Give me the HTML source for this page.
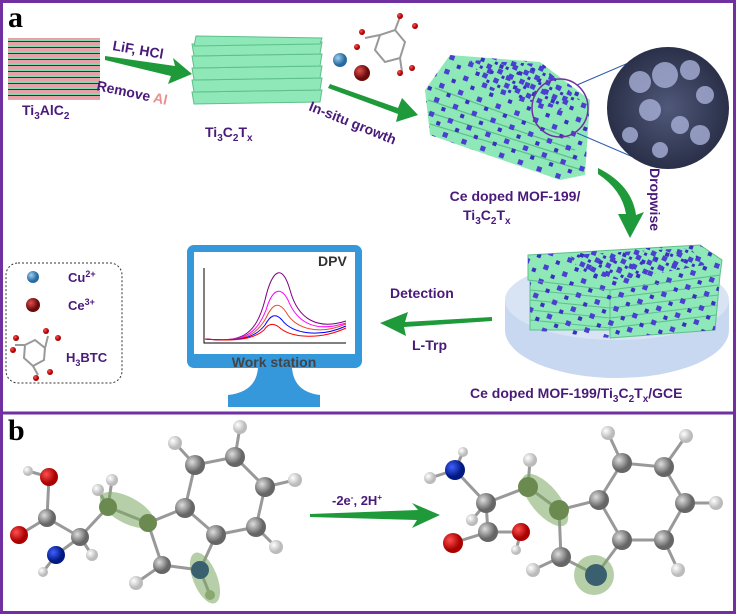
<!DOCTYPE html>
<html><head><meta charset="utf-8"><style>
html,body{margin:0;padding:0;background:#fff}
svg{display:block}
text{font-family:"Liberation Sans",sans-serif;font-weight:bold}
</style></head><body>
<svg width="736" height="614" viewBox="0 0 736 614" xmlns="http://www.w3.org/2000/svg">
<defs>
<pattern id="mof" width="20" height="15" patternUnits="userSpaceOnUse" patternTransform="rotate(20)">
<rect x="2" y="2" width="5" height="5" fill="#4a3fd0"/><rect x="12" y="9" width="4" height="4" fill="#3a30c0"/>
</pattern>
<pattern id="mofd" width="12" height="10" patternUnits="userSpaceOnUse" patternTransform="rotate(25)">
<rect x="1" y="1" width="5" height="5" fill="#4a3fd0"/><rect x="7" y="6" width="3" height="3" fill="#3a30c0"/>
</pattern>
<pattern id="stripe" width="10" height="6" patternUnits="userSpaceOnUse">
<rect width="10" height="3" fill="#e8a0a8"/><rect y="3" width="10" height="2" fill="#7fdcae"/><rect y="5" width="10" height="1" fill="#333"/>
</pattern>
<radialGradient id="gC" cx="35%" cy="35%"><stop offset="0" stop-color="#ddd"/><stop offset="1" stop-color="#666"/></radialGradient>
<radialGradient id="gH" cx="35%" cy="35%"><stop offset="0" stop-color="#fff"/><stop offset="1" stop-color="#bbb"/></radialGradient>
<radialGradient id="gO" cx="35%" cy="35%"><stop offset="0" stop-color="#ff5050"/><stop offset="1" stop-color="#a00"/></radialGradient>
<radialGradient id="gN" cx="35%" cy="35%"><stop offset="0" stop-color="#4060ff"/><stop offset="1" stop-color="#001880"/></radialGradient>
<radialGradient id="gCu" cx="35%" cy="35%"><stop offset="0" stop-color="#9cd0f0"/><stop offset="1" stop-color="#2a6aa0"/></radialGradient>
<radialGradient id="gCe" cx="35%" cy="35%"><stop offset="0" stop-color="#e05050"/><stop offset="1" stop-color="#6a0a0a"/></radialGradient>
<radialGradient id="sem" cx="50%" cy="50%"><stop offset="0" stop-color="#50587a"/><stop offset="1" stop-color="#2a3048"/></radialGradient>
</defs>
<rect x="1.5" y="1.5" width="733" height="611" fill="none" stroke="#7030a0" stroke-width="3"/>
<line x1="0" y1="413" x2="736" y2="413" stroke="#7030a0" stroke-width="3"/>
<text x="8" y="27" font-size="30" fill="#000" style="font-family:'Liberation Serif',serif">a</text>
<text x="8" y="440" font-size="30" fill="#000" style="font-family:'Liberation Serif',serif">b</text>

<rect x="8" y="38" width="92" height="62" fill="url(#stripe)"/>
<text x="22" y="115" font-size="14" fill="#4a1a7a">Ti<tspan font-size="10" dy="4">3</tspan><tspan dy="-4">AlC</tspan><tspan font-size="10" dy="4">2</tspan></text>
<polygon points="105,56 175,66 173,58 192,74 168,84 171,76 105,60" fill="#1e9a3a"/>
<text x="112" y="50" font-size="14" fill="#4a1a7a" transform="rotate(10 112 50)">LiF, HCl</text>
<text x="96" y="90" font-size="14" fill="#4a1a7a" transform="rotate(12 96 90)">Remove <tspan fill="#e89090">Al</tspan></text>

<g fill="#8ee8b8" stroke="#5fbf8a" stroke-width="1">
<path d="M192,92 L322,90 L320,102 L194,104 Z"/>
<path d="M192,80 L322,78 L320,90 L194,92 Z"/>
<path d="M192,68 L322,66 L320,78 L194,80 Z"/>
<path d="M192,56 L322,54 L320,66 L194,68 Z"/>
<path d="M192,44 L322,42 L320,54 L194,56 Z"/>
<path d="M196,36 L322,38 L320,44 L194,46 Z"/>
</g>
<text x="205" y="137" font-size="14" fill="#4a1a7a">Ti<tspan font-size="10" dy="4">3</tspan><tspan dy="-4">C</tspan><tspan font-size="10" dy="4">2</tspan><tspan dy="-4">T</tspan><tspan font-size="10" dy="4">x</tspan></text>

<g stroke="#999" stroke-width="2" fill="none">
<polygon points="380,35 395,30 405,42 400,58 385,62 375,50"/>
<line x1="380" y1="35" x2="365" y2="38"/><line x1="395" y1="30" x2="400" y2="17"/><line x1="400" y1="58" x2="402" y2="72"/>
</g>
<circle cx="400" cy="16" r="3" fill="url(#gO)"/><circle cx="415" cy="26" r="3" fill="url(#gO)"/>
<circle cx="362" cy="32" r="3" fill="url(#gO)"/><circle cx="357" cy="47" r="3" fill="url(#gO)"/>
<circle cx="400" cy="73" r="3" fill="url(#gO)"/><circle cx="412" cy="68" r="3" fill="url(#gO)"/>
<circle cx="340" cy="60" r="7" fill="url(#gCu)"/>
<circle cx="362" cy="73" r="8" fill="url(#gCe)"/>
<polygon points="330,84 398,108 402,98 418,115 396,122 398,114 328,88" fill="#1e9a3a"/>
<text x="308" y="110" font-size="14" fill="#4a1a7a" transform="rotate(22 308 110)">In-situ growth</text>

<g>
<path d="M450,55 L540,62 L590,100 L585,175 L560,180 L430,135 L425,90 Z" fill="#8ee8b8"/>
<g stroke="#5fbf8a" stroke-width="1.2" fill="none">
<path d="M428,100 L575,150"/><path d="M428,112 L578,160"/><path d="M430,124 L582,170"/><path d="M435,88 L570,138"/>
</g>
<path d="M450,55 L540,62 L590,100 L585,175 L560,180 L430,135 L425,90 Z" fill="url(#mof)"/>
<path d="M470,60 L540,64 L580,100 L560,110 L490,90 Z" fill="url(#mofd)"/>
</g>
<ellipse cx="560" cy="108" rx="28" ry="29" fill="none" stroke="#7030a0" stroke-width="1.5"/>
<line x1="577" y1="85" x2="640" y2="58" stroke="#2a5ab0" stroke-width="1"/>
<line x1="577" y1="133" x2="640" y2="160" stroke="#2a5ab0" stroke-width="1"/>
<circle cx="668" cy="108" r="61" fill="url(#sem)"/>
<g fill="#a8b0d8" opacity="0.8">
<circle cx="640" cy="82" r="11"/><circle cx="665" cy="75" r="13"/><circle cx="690" cy="70" r="10"/><circle cx="705" cy="95" r="9"/>
<circle cx="650" cy="110" r="11"/><circle cx="680" cy="125" r="9"/><circle cx="700" cy="135" r="10"/><circle cx="630" cy="135" r="8"/><circle cx="660" cy="150" r="8"/>
</g>
<text x="515" y="201" font-size="14" fill="#4a1a7a" text-anchor="middle">Ce doped MOF-199/</text>
<text x="463" y="220" font-size="14" fill="#4a1a7a">Ti<tspan font-size="10" dy="4">3</tspan><tspan dy="-4">C</tspan><tspan font-size="10" dy="4">2</tspan><tspan dy="-4">T</tspan><tspan font-size="10" dy="4">x</tspan></text>

<path d="M598,168 Q632,185 636,215 L644,212 L630,238 L618,214 L626,214 Q622,190 598,174 Z" fill="#1e9a3a"/>
<text x="650" y="168" font-size="14" fill="#4a1a7a" transform="rotate(90 650 168)">Dropwise</text>

<path d="M505,300 L505,330 A112,48 0 0 0 729,330 L729,300 Z" fill="#c8d8f0"/>
<ellipse cx="617" cy="300" rx="112" ry="40" fill="#d8e4f4"/>
<ellipse cx="612" cy="300" rx="80" ry="25" fill="#777"/>
<g stroke="#5fbf8a" stroke-width="1">
<rect x="530" y="280" width="80" height="50" fill="#8ee8b8"/>
<path d="M610,290 L720,275 L715,330 L610,338 Z" fill="#8ee8b8"/>
</g>
<g stroke="#5fbf8a" stroke-width="1" fill="none">
<path d="M530,290 L610,298 L718,285"/><path d="M530,300 L610,308 L718,295"/><path d="M530,310 L610,318 L717,305"/><path d="M530,320 L610,328 L716,315"/>
</g>
<path d="M530,280 L610,290 L720,275 L715,330 L610,338 L530,330Z" fill="url(#mof)"/>
<path d="M528,255 L700,245 L722,260 L720,275 L610,290 L528,280 Z" fill="#8ee8b8" stroke="#5fbf8a"/>
<path d="M528,255 L700,245 L722,260 L720,275 L610,290 L528,280 Z" fill="url(#mof)"/>
<path d="M570,255 L690,248 L705,265 L620,280 L580,272 Z" fill="url(#mofd)"/>
<text x="470" y="398" font-size="14" fill="#4a1a7a">Ce doped MOF-199/Ti<tspan font-size="10" dy="4">3</tspan><tspan dy="-4">C</tspan><tspan font-size="10" dy="4">2</tspan><tspan dy="-4">T</tspan><tspan font-size="10" dy="4">x</tspan><tspan dy="-4">/GCE</tspan></text>

<text x="390" y="298" font-size="14" fill="#4a1a7a">Detection</text>
<text x="412" y="350" font-size="14" fill="#4a1a7a">L-Trp</text>
<polygon points="492,317 405,322 408,312 380,323 406,336 404,327 492,321" fill="#1e9a3a"/>

<rect x="187" y="245" width="175" height="123" rx="7" fill="#3498db"/>
<rect x="194" y="252" width="161" height="102" fill="#fff"/>
<path d="M258,368 L292,368 Q294,392 320,395 L320,407 L228,407 L228,395 Q256,392 258,368 Z" fill="#3498db"/>
<text x="274" y="367" font-size="14" fill="#444" text-anchor="middle">Work station</text>
<text x="318" y="266" font-size="14" fill="#333">DPV</text>
<polyline points="204,268 204,343 346,343" fill="none" stroke="#000" stroke-width="1"/>
<g fill="none" stroke-width="1">
<path d="M205,339 C240,342 255,338 265,300 C272,270 282,262 290,290 C298,320 318,330 346,321" stroke="#800080"/>
<path d="M205,339 C240,342 255,338 266,310 C272,290 280,285 288,300 C298,325 318,332 346,323" stroke="#ff00ff"/>
<path d="M205,339 C240,342 255,338 266,318 C272,305 278,300 286,312 C296,330 320,335 346,324" stroke="#e05030"/>
<path d="M205,339 C240,342 255,338 265,325 C270,316 275,312 282,320 C292,334 320,338 346,326" stroke="#0000ff"/>
<path d="M205,339 C240,342 255,338 264,330 C268,324 273,322 280,328 C292,338 320,340 346,328" stroke="#ff0000"/>
</g>

<rect x="6" y="263" width="116" height="120" rx="12" fill="none" stroke="#333" stroke-width="1" stroke-dasharray="2,2"/>
<circle cx="33" cy="277" r="6" fill="url(#gCu)"/>
<text x="68" y="282" font-size="13" fill="#4a1a7a">Cu<tspan font-size="9" dy="-5">2+</tspan></text>
<circle cx="33" cy="305" r="7" fill="url(#gCe)"/>
<text x="68" y="310" font-size="13" fill="#4a1a7a">Ce<tspan font-size="9" dy="-5">3+</tspan></text>
<g stroke="#999" stroke-width="2" fill="none">
<polygon points="25,345 35,340 45,348 44,360 33,366 24,358"/>
<line x1="25" y1="345" x2="15" y2="345"/><line x1="45" y1="348" x2="48" y2="336"/><line x1="33" y1="366" x2="38" y2="375"/>
</g>
<circle cx="13" cy="350" r="3" fill="url(#gO)"/><circle cx="16" cy="338" r="3" fill="url(#gO)"/>
<circle cx="46" cy="331" r="3" fill="url(#gO)"/><circle cx="58" cy="338" r="3" fill="url(#gO)"/>
<circle cx="36" cy="378" r="3" fill="url(#gO)"/><circle cx="50" cy="372" r="3" fill="url(#gO)"/>
<text x="66" y="362" font-size="13" fill="#4a1a7a">H<tspan font-size="9" dy="4">3</tspan><tspan dy="-4">BTC</tspan></text>

<polygon points="310,514 418,510 412,503 440,515 412,528 417,520 310,517" fill="#1e9a3a"/>
<text x="332" y="505" font-size="13" fill="#4a1a7a">-2e<tspan font-size="8" dy="-5">-</tspan><tspan dy="5">,  2H</tspan><tspan font-size="8" dy="-5">+</tspan></text>

<g stroke="#999" stroke-width="3" fill="none">
<path d="M49,477 L47,518 L19,535 M47,518 L80,537 L56,555 M80,537 L108,507 L148,523 L185,508 L195,465 L235,457 L265,487 L256,527 L216,535 L200,570 L162,565 L148,523 M185,508 L216,535 M200,570 L210,595 M49,477 L28,471 M56,555 L43,572 M80,537 L92,555 M108,507 L98,490 M108,507 L112,480 M195,465 L175,443 M235,457 L240,427 M265,487 L295,480 M256,527 L276,547 M162,565 L136,583"/>
</g>
<ellipse cx="127" cy="510" rx="30" ry="13" transform="rotate(28 127 510)" fill="#7aa860" opacity="0.55"/>
<ellipse cx="205" cy="578" rx="27" ry="12" transform="rotate(68 205 578)" fill="#7aa860" opacity="0.55"/>
<g>
<circle cx="28" cy="471" r="5" fill="url(#gH)"/><circle cx="43" cy="572" r="5" fill="url(#gH)"/><circle cx="92" cy="555" r="6" fill="url(#gH)"/>
<circle cx="98" cy="490" r="6" fill="url(#gH)"/><circle cx="112" cy="480" r="6" fill="url(#gH)"/><circle cx="175" cy="443" r="7" fill="url(#gH)"/>
<circle cx="240" cy="427" r="7" fill="url(#gH)"/><circle cx="295" cy="480" r="7" fill="url(#gH)"/><circle cx="276" cy="547" r="7" fill="url(#gH)"/>
<circle cx="136" cy="583" r="7" fill="url(#gH)"/>
<circle cx="49" cy="477" r="9" fill="url(#gO)"/><circle cx="19" cy="535" r="9" fill="url(#gO)"/>
<circle cx="47" cy="518" r="9" fill="url(#gC)"/><circle cx="56" cy="555" r="9" fill="url(#gN)"/>
<circle cx="80" cy="537" r="9" fill="url(#gC)"/><circle cx="108" cy="507" r="9" fill="#6a8a50"/>
<circle cx="148" cy="523" r="9" fill="#6a8a50"/><circle cx="185" cy="508" r="10" fill="url(#gC)"/>
<circle cx="195" cy="465" r="10" fill="url(#gC)"/><circle cx="235" cy="457" r="10" fill="url(#gC)"/>
<circle cx="265" cy="487" r="10" fill="url(#gC)"/><circle cx="256" cy="527" r="10" fill="url(#gC)"/>
<circle cx="216" cy="535" r="10" fill="url(#gC)"/><circle cx="200" cy="570" r="9" fill="#3a6070"/>
<circle cx="162" cy="565" r="9" fill="url(#gC)"/><circle cx="210" cy="595" r="5" fill="#8aa870"/>
</g>

<g stroke="#999" stroke-width="3" fill="none">
<path d="M455,470 L486,503 L488,532 L453,543 M488,532 L521,532 M486,503 L528,487 L559,510 L599,500 L622,463 L664,467 L685,503 L664,540 L622,540 L599,500 M622,540 L596,575 L561,557 L559,510 M455,470 L430,478 M455,470 L463,452 M528,487 L530,460 M622,463 L608,433 M664,467 L686,436 M685,503 L716,503 M664,540 L678,570 M561,557 L533,570 M521,532 L516,550 M486,503 L472,520"/>
</g>
<ellipse cx="545" cy="500" rx="32" ry="14" transform="rotate(50 545 500)" fill="#7aa860" opacity="0.55"/>
<circle cx="594" cy="575" r="20" fill="#7aa860" opacity="0.55"/>
<g>
<circle cx="430" cy="478" r="6" fill="url(#gH)"/><circle cx="463" cy="452" r="5" fill="url(#gH)"/><circle cx="530" cy="460" r="7" fill="url(#gH)"/>
<circle cx="608" cy="433" r="7" fill="url(#gH)"/><circle cx="686" cy="436" r="7" fill="url(#gH)"/><circle cx="716" cy="503" r="7" fill="url(#gH)"/>
<circle cx="678" cy="570" r="7" fill="url(#gH)"/><circle cx="533" cy="570" r="7" fill="url(#gH)"/><circle cx="516" cy="550" r="5" fill="url(#gH)"/>
<circle cx="472" cy="520" r="6" fill="url(#gH)"/>
<circle cx="455" cy="470" r="10" fill="url(#gN)"/><circle cx="486" cy="503" r="10" fill="url(#gC)"/>
<circle cx="488" cy="532" r="10" fill="url(#gC)"/><circle cx="453" cy="543" r="10" fill="url(#gO)"/>
<circle cx="521" cy="532" r="9" fill="url(#gO)"/><circle cx="528" cy="487" r="10" fill="#6a8a50"/>
<circle cx="559" cy="510" r="10" fill="#6a8a50"/><circle cx="599" cy="500" r="10" fill="url(#gC)"/>
<circle cx="622" cy="463" r="10" fill="url(#gC)"/><circle cx="664" cy="467" r="10" fill="url(#gC)"/>
<circle cx="685" cy="503" r="10" fill="url(#gC)"/><circle cx="664" cy="540" r="10" fill="url(#gC)"/>
<circle cx="622" cy="540" r="10" fill="url(#gC)"/><circle cx="596" cy="575" r="11" fill="#3a6070"/>
<circle cx="561" cy="557" r="10" fill="url(#gC)"/>
</g>
</svg>
</body></html>
